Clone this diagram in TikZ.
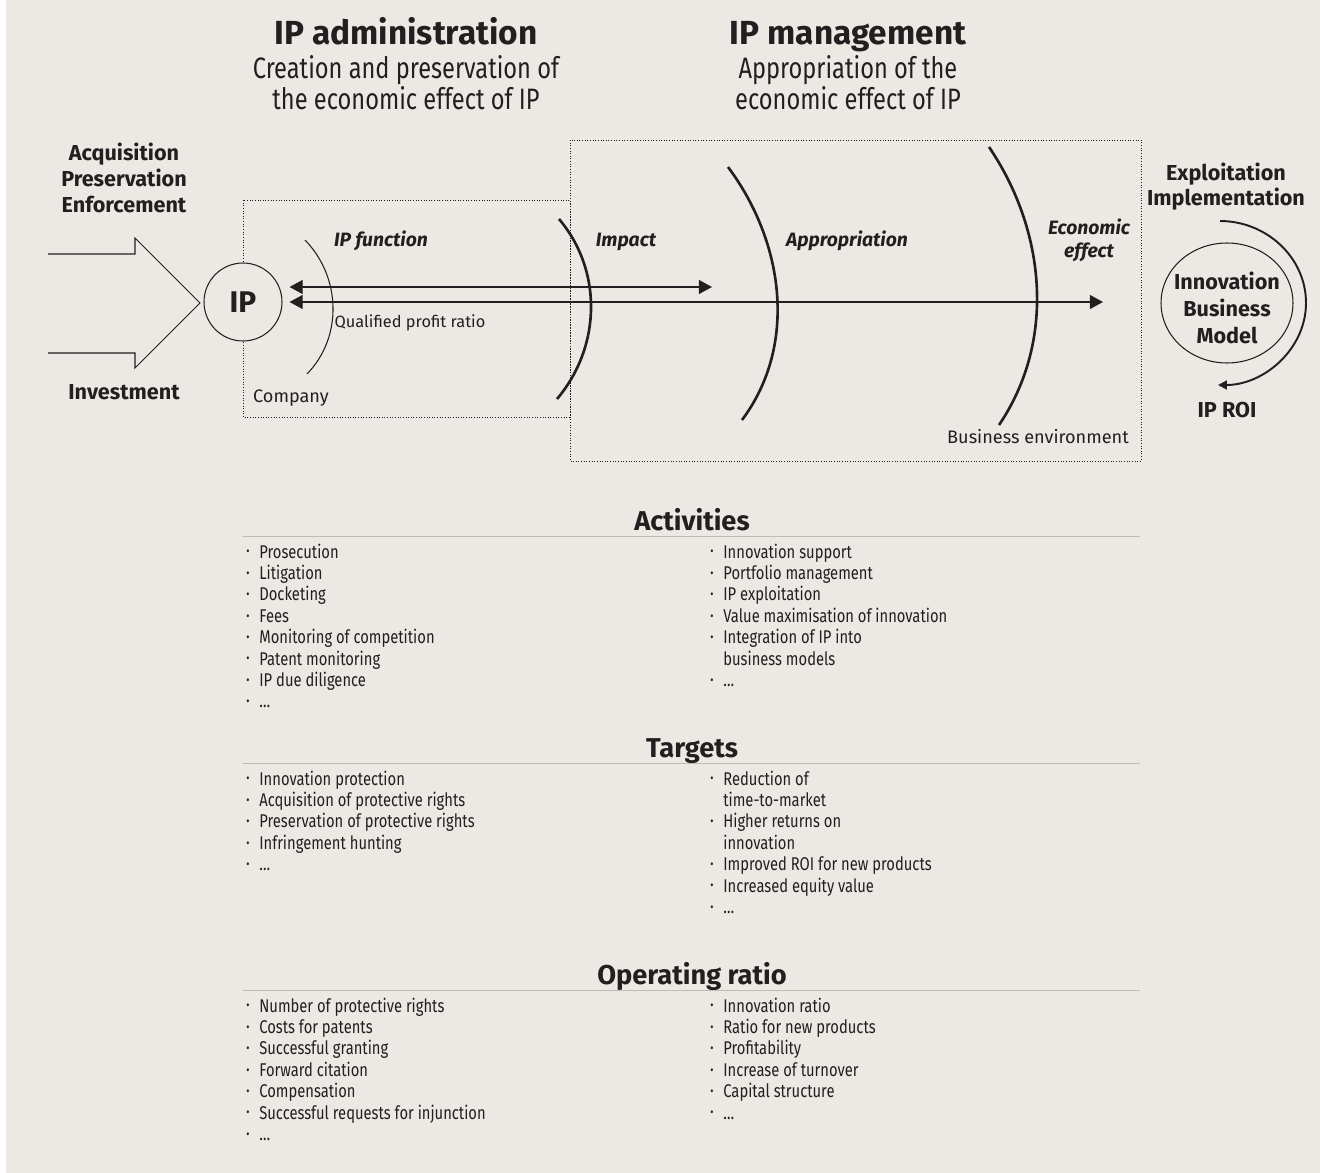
\documentclass[tikz,border=0pt]{standalone}
\usepackage{fontspec}
\setmainfont{Fira Sans}
\newfontfamily\condfont[FakeStretch=0.8]{Fira Sans}
\usepackage{xcolor}
\usepackage{tikz}
\usetikzlibrary{arrows.meta, shapes.geometric}
\definecolor{mbg}{RGB}{236, 233, 228}
\definecolor{mink}{RGB}{35, 31, 32}
\definecolor{mrule}{RGB}{196, 186, 178}

% small list bullet hanging left of the text
\newcommand{\blt}{\llap{\raisebox{1.2pt}{\fontsize{7}{7}\selectfont\textbullet}\hspace{5.6pt}}}

\tikzset{
  head/.style={font=\bfseries\fontsize{19}{22}\selectfont, anchor=base, inner sep=0pt, text=mink},
  sub/.style={font=\condfont\fontsize{16.8}{20}\selectfont, anchor=base, inner sep=0pt, text=mink},
  lbl/.style={font=\bfseries\fontsize{12.3}{14}\selectfont, anchor=base, inner sep=0pt, text=mink},
  ilbl/.style={font=\bfseries\itshape\fontsize{11}{13}\selectfont, anchor=base, inner sep=0pt, text=mink},
  note/.style={font=\fontsize{10.3}{12}\selectfont, anchor=base, inner sep=0pt, text=mink},
  sect/.style={font=\bfseries\fontsize{15.5}{18}\selectfont, anchor=base, inner sep=0pt, text=mink},
  item/.style={font=\condfont\fontsize{10.5}{12}\selectfont, anchor=base west, inner sep=0pt, text=mink},
  box/.style={draw=mink, densely dotted, line width=0.5pt},
  lens/.style={draw=mink, line width=1.5pt},
  dbl/.style={draw=mink, line width=0.7pt, {Triangle[length=7.5pt,width=8pt]}-{Triangle[length=7.5pt,width=8pt]}},
}

\begin{document}
\begin{tikzpicture}[x=0.02cm, y=-0.02cm]
    \fill[white] (0,0) rectangle (1320,1173);
    \fill[mbg] (6,0) rectangle (1320,1173);
    \useasboundingbox (0,0) rectangle (1320,1173);

    % --- headings ---
    \node[head] (admT)  at (406,45)  {IP administration};
    \node[sub]  (admS1) at (406,78)  {Creation and preservation of};
    \node[sub]  (admS2) at (406,109) {the economic effect of IP};
    \node[head] (manT)  at (848,45)  {IP management};
    \node[sub]  (manS1) at (848,78)  {Appropriation of the};
    \node[sub]  (manS2) at (848,109) {economic effect of IP};

    % --- company / business environment ---
    \draw[box] (243,200) rectangle (570,417);
    \draw[box] (570,140) rectangle (1141,461);
    \node[note] (comp) at (291,402) {Company};
    \node[note] (benv) at (1038,443) {Business environment};

    % --- inputs ---
    \node[lbl] (acq)  at (124,160) {Acquisition};
    \node[lbl] (pres) at (124,186) {Preservation};
    \node[lbl] (enf)  at (124,212) {Enforcement};
    \node[lbl] (inv)  at (124,399) {Investment};
    \draw[mink, line width=0.6pt] (48,254) -- (135,254) -- (135,238) -- (200,303)
         -- (135,368) -- (135,353) -- (48,353);

    \node[draw=mink, fill=mbg, circle, minimum size=1.56cm, line width=0.6pt,
          font=\bfseries\fontsize{17}{20}\selectfont, text=mink] (ip) at (243,302) {IP};

    % --- lenses ---
    \draw[mink, line width=0.6pt] (305,240) .. controls (341,277) and (343,337) .. (307,374);
    \draw[lens] (559,219) .. controls (603,271) and (601,347) .. (557,399);
    \draw[lens] (728,167) .. controls (784,242) and (798,345) .. (742,420);
    \draw[lens] (989,147) .. controls (1046,231) and (1056,341) .. (999,425);
    \node[ilbl] (fnL)   at (381,246)  {IP function};
    \node[ilbl] (impL)  at (626,246)  {Impact};
    \node[ilbl] (appL)  at (847,246)  {Appropriation};
    \node[ilbl] (ecoL1) at (1089,234) {Economic};
    \node[ilbl] (ecoL2) at (1089,257) {effect};
    \node[note, font=\fontsize{9.3}{11}\selectfont] (qpr) at (410,327) {Qualified profit ratio};

    % --- arrows ---
    \coordinate (impR) at (712,287);
    \coordinate (effR) at (1103,302);
    \draw[dbl, shorten <=4pt] (ip.east |- impR) -- (impR);
    \draw[dbl, shorten <=4pt] (ip.east |- effR) -- (effR);

    % --- business model ---
    \node[lbl] (expl) at (1226,180) {Exploitation};
    \node[lbl] (impl) at (1226,205) {Implementation};
    \node[draw=mink, ellipse, minimum width=2.64cm, minimum height=2.4cm, line width=0.6pt] (ibm) at (1227,303) {};
    \node[lbl] (ibm1) at (1227,289) {Innovation};
    \node[lbl] (ibm2) at (1227,316) {Business};
    \node[lbl] (ibm3) at (1227,343) {Model};
    \coordinate (roiS) at (1220,221);
    \coordinate (roiE) at (1218,385);
    \draw[mink, line width=1.1pt, -{Triangle[length=5pt,width=5pt]}] (roiS)
         .. controls (1266,221) and (1306,257) .. (1306,303)
         .. controls (1306,349) and (1264,385) .. (roiE);
    \node[lbl] (roi) at (1227,417) {IP ROI};

    % --- activities ---
    \node[sect] (actH) at (692,530) {Activities};
    \draw[mrule, line width=0.6pt] (243,536.5) -- (1140,536.5);
    \foreach \txt [count=\i from 0] in {\blt Prosecution, \blt Litigation, \blt Docketing, \blt Fees,
        \blt Monitoring of competition, \blt Patent monitoring, \blt IP due diligence, \blt …}
      \node[item] (actL\i) at (259,558+21.4*\i) {\txt};
    \foreach \txt [count=\i from 0] in {\blt Innovation support, \blt Portfolio management,
        \blt IP exploitation, \blt Value maximisation of innovation, \blt Integration of IP into,
        business models, \blt …}
      \node[item] (actR\i) at (723,558+21.4*\i) {\txt};

    % --- targets ---
    \node[sect] (tarH) at (692,757) {Targets};
    \draw[mrule, line width=0.6pt] (243,763.5) -- (1140,763.5);
    \foreach \txt [count=\i from 0] in {\blt Innovation protection, \blt Acquisition of protective rights,
        \blt Preservation of protective rights, \blt Infringement hunting, \blt …}
      \node[item] (tarL\i) at (259,785+21.4*\i) {\txt};
    \foreach \txt [count=\i from 0] in {\blt Reduction of, time-to-market, \blt Higher returns on,
        innovation, \blt Improved ROI for new products, \blt Increased equity value, \blt …}
      \node[item] (tarR\i) at (723,785+21.4*\i) {\txt};

    % --- operating ratio ---
    \node[sect] (opH) at (692,984) {Operating ratio};
    \draw[mrule, line width=0.6pt] (243,990.5) -- (1140,990.5);
    \foreach \txt [count=\i from 0] in {\blt Number of protective rights, \blt Costs for patents,
        \blt Successful granting, \blt Forward citation, \blt Compensation,
        \blt Successful requests for injunction, \blt …}
      \node[item] (opL\i) at (259,1012+21.4*\i) {\txt};
    \foreach \txt [count=\i from 0] in {\blt Innovation ratio, \blt Ratio for new products,
        \blt Profitability, \blt Increase of turnover, \blt Capital structure, \blt …}
      \node[item] (opR\i) at (723,1012+21.4*\i) {\txt};
\end{tikzpicture}
\end{document}
